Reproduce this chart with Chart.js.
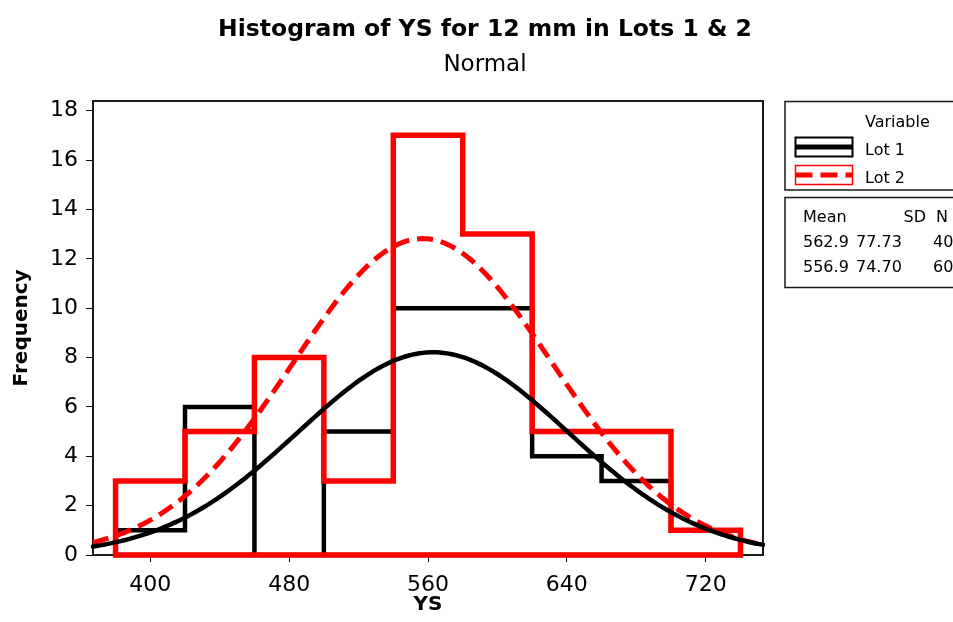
<!DOCTYPE html>
<html>
<head>
<meta charset="utf-8">
<title>Histogram of YS for 12 mm in Lots 1 &amp; 2</title>
<script src="https://cdn.jsdelivr.net/npm/chart.js@4.4.1/dist/chart.umd.min.js"></script>
<style>
  html, body { margin: 0; padding: 0; background: #fff; overflow: hidden; }
  #wrap { position: relative; width: 953px; height: 622px; }
  #histChart, #legendBox { position: absolute; left: 0; top: 0; }
</style>
</head>
<body>
<div id="wrap">
  <canvas id="histChart" width="953" height="622"></canvas>
  <svg id="legendBox" width="953" height="622" font-family="DejaVu Sans" font-size="16"></svg>
</div>
<script>
// Histogram bins (YS) and frequency per lot
const binEdges = [380, 420, 460, 500, 540, 580, 620, 660, 700, 740];
const lot1Counts = [1, 6, 0, 5, 10, 10, 4, 3, 1];
const lot2Counts = [3, 5, 8, 3, 17, 13, 5, 5, 1];

// Normal fit per lot
const seriesNames = ["Lot 1", "Lot 2"];
const seriesMean = [562.9, 556.9];
const seriesSD = [77.73, 74.70];
const seriesN = [40, 60];

// Axes
const xTicks = [400, 480, 560, 640, 720];
const yTicks = [0, 2, 4, 6, 8, 10, 12, 14, 16, 18];
const xRange = [367, 753];
const yMax = 18.4;

const RED = "#ff0000";
const BLACK = "#000000";

Chart.defaults.font.family = "'DejaVu Sans', sans-serif";
Chart.defaults.color = BLACK;

// outline of the bars: up the first edge, across the tops, down the last edge, back along 0
function histOutline(counts) {
  const pts = [{ x: binEdges[0], y: 0 }];
  counts.forEach((c, i) => pts.push({ x: binEdges[i], y: c }));
  pts.push({ x: binEdges[binEdges.length - 1], y: 0 });
  pts.push({ x: binEdges[0], y: 0 });
  return pts;
}

// normal density scaled to counts (n * bin width)
function normalCurve(mean, sd, n) {
  const binWidth = binEdges[1] - binEdges[0];
  const pts = [];
  for (let x = xRange[0]; x <= xRange[1]; x += 2) {
    const z = (x - mean) / sd;
    pts.push({ x: x, y: (n * binWidth * Math.exp(-0.5 * z * z)) / (sd * Math.sqrt(2 * Math.PI)) });
  }
  return pts;
}

const frameBorder = { display: true, color: "#1a1a1a", width: 2 };

const ctx = document.getElementById("histChart");
const histChart = new Chart(ctx, {
  type: "line",
  data: {
    datasets: [
      {
        label: seriesNames[0] + " bars",
        data: histOutline(lot1Counts),
        borderColor: BLACK,
        borderWidth: 4.5,
        stepped: true,
        borderJoinStyle: "miter",
        borderCapStyle: "square",
        order: 4,
      },
      {
        label: seriesNames[1] + " bars",
        data: histOutline(lot2Counts),
        borderColor: RED,
        borderWidth: 5.5,
        stepped: true,
        borderJoinStyle: "miter",
        borderCapStyle: "square",
        order: 3,
      },
      {
        label: seriesNames[1],
        data: normalCurve(seriesMean[1], seriesSD[1], seriesN[1]),
        borderColor: RED,
        borderWidth: 5,
        borderDash: [16, 8],
        order: 2,
      },
      {
        label: seriesNames[0],
        data: normalCurve(seriesMean[0], seriesSD[0], seriesN[0]),
        borderColor: BLACK,
        borderWidth: 4.5,
        borderCapStyle: "round",
        order: 1,
      },
    ],
  },
  options: {
    responsive: false,
    animation: false,
    devicePixelRatio: 1,
    clip: false,
    elements: {
      point: { radius: 0 },
      line: { tension: 0, fill: false },
    },
    layout: { padding: { left: 17, right: 0, top: 0, bottom: 0 } },
    plugins: {
      legend: { display: false },
      tooltip: { enabled: false },
      title: {
        display: true,
        text: "Histogram of YS for 12 mm in Lots 1 & 2",
        color: BLACK,
        font: { size: 23.5, weight: "bold" },
        padding: { top: 16, bottom: 2 },
      },
      subtitle: {
        display: true,
        text: "Normal",
        color: BLACK,
        font: { size: 23, weight: "normal" },
        padding: { top: 5, bottom: 22 },
      },
    },
    scales: {
      x: {
        type: "linear",
        position: "bottom",
        min: xRange[0],
        max: xRange[1],
        afterBuildTicks: (s) => {
          s.ticks = xTicks.map((v) => ({ value: v }));
        },
        afterFit: (s) => {
          s.height = 67;
        },
        grid: { drawOnChartArea: false, tickLength: 7, tickColor: BLACK },
        border: frameBorder,
        ticks: { color: BLACK, font: { size: 22 }, padding: 10, maxRotation: 0, autoSkip: false },
        title: {
          display: true,
          text: "YS",
          color: BLACK,
          font: { size: 20, weight: "bold" },
          padding: { top: 0, bottom: 5 },
        },
      },
      y: {
        position: "left",
        min: 0,
        max: yMax,
        afterBuildTicks: (s) => {
          s.ticks = yTicks.map((v) => ({ value: v }));
        },
        afterFit: (s) => {
          s.width = 76;
        },
        grid: { drawOnChartArea: false, tickLength: 7, tickColor: BLACK },
        border: frameBorder,
        ticks: { color: BLACK, font: { size: 22 }, padding: 8 },
        title: {
          display: true,
          text: "Frequency",
          color: BLACK,
          font: { size: 20, weight: "bold", lineHeight: 0.5 },
          padding: 0,
        },
      },
      // top and right sides of the frame; the right one also keeps room for the legend
      x2: {
        type: "linear",
        position: "top",
        ticks: { display: false },
        grid: { display: false, drawTicks: false },
        border: frameBorder,
        afterFit: (s) => {
          s.height = 0;
        },
      },
      y2: {
        position: "right",
        ticks: { display: false },
        grid: { display: false, drawTicks: false },
        border: frameBorder,
        afterFit: (s) => {
          s.width = 190;
        },
      },
    },
  },
});

// Legend and summary table on the right
const svgNS = "http://www.w3.org/2000/svg";
const legendSvg = document.getElementById("legendBox");

function addSvg(tag, attrs, text) {
  const el = document.createElementNS(svgNS, tag);
  Object.keys(attrs).forEach((k) => el.setAttribute(k, attrs[k]));
  if (text !== undefined) el.textContent = text;
  legendSvg.appendChild(el);
  return el;
}

addSvg("rect", { x: 785, y: 101.5, width: 200, height: 88.5, fill: "none", stroke: "#1a1a1a", "stroke-width": 1.5 });
addSvg("rect", { x: 785, y: 197.5, width: 200, height: 90, fill: "none", stroke: "#1a1a1a", "stroke-width": 1.5 });

addSvg("text", { x: 865, y: 127, fill: BLACK }, "Variable");

const sampleStyles = [
  { color: BLACK, frame: 2, dash: "" },
  { color: RED, frame: 1.5, dash: "17 8" },
];
seriesNames.forEach((name, i) => {
  const top = 137.5 + i * 28;
  const st = sampleStyles[i];
  addSvg("rect", { x: 795.5, y: top, width: 57, height: 19, fill: "#fff", stroke: st.color, "stroke-width": st.frame });
  const line = addSvg("line", { x1: 795.5, y1: top + 9.5, x2: 852.5, y2: top + 9.5, stroke: st.color, "stroke-width": 5 });
  if (st.dash) line.setAttribute("stroke-dasharray", st.dash);
  addSvg("text", { x: 865, y: 155 + i * 28, fill: BLACK }, name);
});

addSvg("text", { x: 803, y: 222, fill: BLACK }, "Mean");
addSvg("text", { x: 926, y: 222, fill: BLACK, "text-anchor": "end" }, "SD");
addSvg("text", { x: 936, y: 222, fill: BLACK }, "N");
seriesNames.forEach((name, i) => {
  const y = 247 + i * 25;
  addSvg("text", { x: 803, y: y, fill: BLACK }, seriesMean[i].toFixed(1));
  addSvg("text", { x: 856, y: y, fill: BLACK }, seriesSD[i].toFixed(2));
  addSvg("text", { x: 933, y: y, fill: BLACK }, String(seriesN[i]));
});
</script>
</body>
</html>
